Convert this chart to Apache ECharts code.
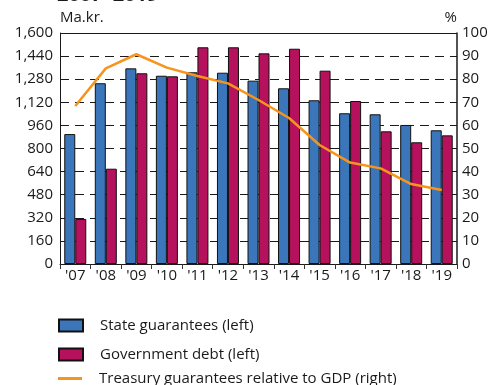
<!DOCTYPE html>
<html>
<head>
<meta charset="utf-8">
<script src="https://cdn.jsdelivr.net/npm/echarts@6/dist/echarts.min.js"></script>
<style>
  html, body { margin: 0; padding: 0; background: #fff; }
  #chart { width: 491px; height: 385px; }
</style>
</head>
<body>
<div id="chart"></div>
<script>
// Years on the category axis
const years = ["'07", "'08", "'09", "'10", "'11", "'12", "'13", "'14", "'15", "'16", "'17", "'18", "'19"];
// Billions of ISK (left axis)
const stateGuarantees = [900, 1252, 1355, 1304, 1328, 1325, 1270, 1217, 1134, 1044, 1037, 963, 926];
const governmentDebt = [312, 660, 1321, 1300, 1501, 1501, 1459, 1491, 1339, 1129, 919, 843, 891];
// Percent of GDP (right axis)
const guaranteesToGdp = [68.4, 84.7, 90.8, 85.0, 81.4, 78.2, 71.0, 63.2, 51.5, 43.9, 41.4, 34.6, 32.0];
// Axis tick values
const leftTicks = [0, 160, 320, 480, 640, 800, 960, 1120, 1280, 1440, 1600];
const rightTicks = [0, 10, 20, 30, 40, 50, 60, 70, 80, 90, 100];

const seriesNames = ['State guarantees (left)', 'Government debt (left)', 'Treasury guarantees relative to GDP (right)'];

const FONT = "'Open Sans', 'DejaVu Sans', sans-serif";
const chart = echarts.init(document.getElementById('chart'), null, { renderer: 'canvas' });

const fmtThousands = v => String(v).replace(/\B(?=(\d{3})+(?!\d))/g, ',');

const legendText = { fontFamily: FONT, fontSize: 15, color: '#1a1a1a', padding: [0, 0, 0, 12] };
const makeLegend = (name, top, icon, h) => ({
  orient: 'vertical', left: 58, top: top, padding: 0,
  itemWidth: 24, itemHeight: h, icon: icon,
  textStyle: legendText, selectedMode: false,
  data: [name]
});

chart.setOption({
  animation: false,
  textStyle: { fontFamily: FONT, color: '#1a1a1a' },
  graphic: [
    {
      type: 'text', left: 57, top: -15,
      style: { text: '2007–2019', font: "bold 20px " + FONT, fill: '#1a1a1a' }
    },
    {
      // frame line across the top of the plot
      type: 'line', shape: { x1: 60, y1: 33.5, x2: 457, y2: 33.5 },
      style: { stroke: '#1a1a1a', lineWidth: 1 }, z: 10
    }
  ],
  grid: { left: 60, right: 34, top: 33, bottom: 121, containLabel: false },
  legend: [
    makeLegend(seriesNames[0], 318, 'rect', 12),
    makeLegend(seriesNames[1], 347, 'rect', 12),
    makeLegend(seriesNames[2], 371, 'rect', 3)
  ],
  xAxis: {
    type: 'category', data: years, boundaryGap: true,
    axisLine: { show: true, lineStyle: { color: '#1a1a1a', width: 1 } },
    axisTick: { show: true, inside: false, length: 5, lineStyle: { color: '#333' } },
    axisLabel: { fontSize: 15, margin: 4, color: '#1a1a1a', fontFamily: FONT },
    splitLine: { show: false }
  },
  yAxis: [
    {
      type: 'value', min: 0, max: 1600, interval: 160, position: 'left',
      name: 'Ma.kr.', nameLocation: 'end', nameGap: 8,
      nameTextStyle: { fontSize: 15, align: 'left', color: '#1a1a1a', fontFamily: FONT },
      axisLine: { show: true, lineStyle: { color: '#1a1a1a', width: 1 } },
      axisTick: { show: false },
      axisLabel: { fontSize: 15, margin: 7, color: '#1a1a1a', fontFamily: FONT,
        formatter: v => leftTicks.includes(v) ? fmtThousands(v) : '' },
      splitLine: { show: true, lineStyle: { color: '#1a1a1a', type: [9, 6], width: 1 } }
    },
    {
      type: 'value', min: 0, max: 100, interval: 10, position: 'right',
      name: '%', nameLocation: 'end', nameGap: 8,
      nameTextStyle: { fontSize: 15, align: 'right', color: '#1a1a1a', fontFamily: FONT },
      axisLine: { show: true, lineStyle: { color: '#1a1a1a', width: 1.5 } },
      axisTick: { show: false },
      axisLabel: { fontSize: 15, margin: 5, color: '#1a1a1a', fontFamily: FONT,
        formatter: v => rightTicks.includes(v) ? String(v) : '' },
      splitLine: { show: false }
    }
  ],
  series: [
    {
      name: seriesNames[0], type: 'bar', yAxisIndex: 0,
      data: stateGuarantees, barWidth: 11, barGap: '0%',
      itemStyle: { color: '#3b76bb', borderColor: '#111', borderWidth: 1 }
    },
    {
      name: seriesNames[1], type: 'bar', yAxisIndex: 0,
      data: governmentDebt, barWidth: 11, barGap: '0%',
      itemStyle: { color: '#b5115d', borderColor: '#111', borderWidth: 1 }
    },
    {
      name: seriesNames[2], type: 'line', yAxisIndex: 1,
      data: guaranteesToGdp, symbol: 'none', showSymbol: false,
      lineStyle: { color: '#f7941d', width: 2.5 }, itemStyle: { color: '#f7941d', borderWidth: 0 }, z: 5
    }
  ]
});
</script>
</body>
</html>
